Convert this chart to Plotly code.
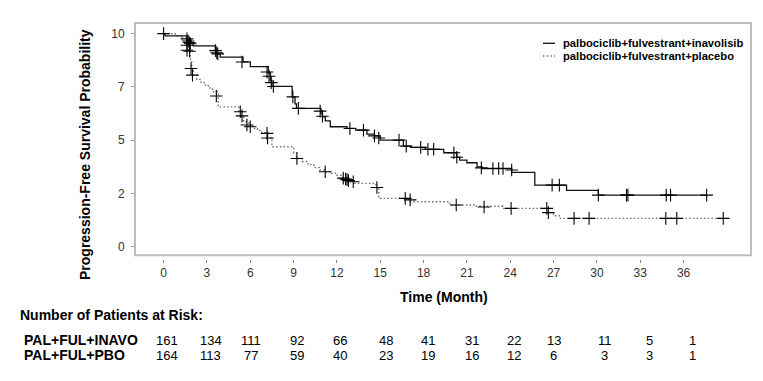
import plotly.graph_objects as go

# ---------------- data ----------------
# Kaplan-Meier step curves (time in months, survival probability)
inavo_t = [0, 0.1, 1.62, 1.9, 2.05, 3.58, 3.7, 3.92, 5.5, 6.0, 7.25, 7.4, 7.5, 8.9, 9.1, 9.2,
           10.9, 11.0, 11.2, 11.54, 12.7, 13.3, 14.08, 14.6, 15.0, 16.6, 17.1, 18.1, 19.4, 20.3,
           20.5, 21.0, 21.7, 22.05, 24.1, 25.7, 27.9, 30.1, 37.6]
inavo_s = [1.0, .989, .969, .955, .942, .922, .905, .89, .867, .845, .815, .78, .752, .703, .67, .649,
           .625, .609, .59, .563, .555, .547, .528, .52, .50, .472, .466, .457, .441, .42,
           .406, .394, .375, .367, .349, .289, .264, .242, .242]

pbo_t = [0, 0.8, 1.3, 1.6, 1.75, 1.85, 1.95, 2.05, 2.3, 2.6, 2.9, 3.2, 3.45, 3.79, 5.2, 5.4, 5.54,
         5.9, 6.2, 6.5, 6.8, 7.2, 7.5, 9.0, 9.2, 9.6, 10.0, 10.4, 10.8, 11.15, 11.5, 11.9, 12.3,
         12.8, 13.2, 14.7, 14.9, 15.0, 17.0, 19.8, 21.5, 23.5, 26.6, 27.0, 27.4, 38.75]
pbo_s = [1.0, .99, .98, .955, .92, .88, .836, .805, .785, .77, .755, .74, .727, .656, .633, .61, .586,
         .565, .555, .545, .535, .51, .469, .44, .414, .40, .385, .372, .36, .352, .345, .335, .325,
         .31, .297, .278, .234, .227, .211, .196, .19, .18, .16, .145, .133, .133]

# censoring marks
inavo_ct = [0, 1.62, 1.7, 1.78, 1.85, 3.6, 3.68, 3.75, 5.43, 7.16, 7.3, 7.45, 7.6, 8.95, 9.33,
            10.84, 11.0, 12.9, 13.84, 14.6, 14.9, 16.3, 16.8, 17.8, 18.3, 18.7, 20.1, 20.3, 22.0,
            22.8, 23.2, 23.5, 24.1, 26.9, 27.4, 30.1, 32.05, 32.15, 34.8, 35.1, 37.6]
inavo_cs = [1.0, .975, .965, .958, .952, .92, .91, .905, .867, .82, .80, .77, .752, .703, .649,
            .636, .612, .555, .547, .52, .51, .50, .472, .466, .457, .457, .441, .42, .37,
            .367, .367, .367, .36, .289, .289, .242, .242, .242, .242, .242, .242]

pbo_ct = [1.62, 1.62, 1.8, 1.9, 2.0, 3.65, 5.31, 5.43, 5.77, 6.0, 7.16, 7.2, 9.23, 11.19, 12.44,
          12.6, 12.7, 12.8, 13.13, 14.77, 16.73, 17.07, 20.26, 22.19, 24.06, 26.53, 26.64, 28.42,
          29.46, 34.77, 35.53, 38.75]
pbo_cs = [.945, .922, .917, .836, .805, .707, .633, .614, .571, .563, .532, .51, .414, .352, .322,
          .318, .315, .31, .305, .278, .227, .22, .196, .186, .18, .18, .16, .133,
          .133, .133, .133, .133]

x_ticks = [0, 3, 6, 9, 12, 15, 18, 21, 24, 27, 30, 33, 36]
x_ticktext = ["0", "3", "6", "9", "12", "15", "18", "21", "24", "27", "30", "33", "36"]
y_ticks = [0, 0.25, 0.5, 0.75, 1.0]
y_ticktext = ["0", "2", "5", "7", "10"]

series_names = ["palbociclib+fulvestrant+inavolisib", "palbociclib+fulvestrant+placebo"]
arm_labels = ["PAL+FUL+INAVO", "PAL+FUL+PBO"]
risk_times = [0, 3, 6, 9, 12, 15, 18, 21, 24, 27, 30, 33, 36]
risk_inavo = [161, 134, 111, 92, 66, 48, 41, 31, 22, 13, 11, 5, 1]
risk_pbo = [164, 113, 77, 59, 40, 23, 19, 16, 12, 6, 3, 3, 1]

# ---------------- layout helpers (style only) ----------------
W, H = 763, 381
OFF = 8  # page body margin
ML, MT = 135 - OFF, 23 - OFF
MR = W - (751 - OFF)
MB = H - (259 - OFF)
PW, PH = W - ML - MR, H - MT - MB
FONT = "Liberation Sans, Arial, sans-serif"
DOT = "1.5px,2.2px"


def px_x(px):
    return (px - OFF - ML) / PW


def px_y(py):
    return (H - MB - (py - OFF)) / PH


risk_shift = [3, 4, 1, 3, 3, 6, 4, 5, 4, 0, 8, 9, 9]

fig = go.Figure()
fig.add_trace(go.Scatter(x=pbo_t, y=pbo_s, mode="lines", name=series_names[1],
                         line=dict(shape="hv", color="#6e6e6e", width=1.4, dash=DOT),
                         showlegend=False))
fig.add_trace(go.Scatter(x=inavo_t, y=inavo_s, mode="lines", name=series_names[0],
                         line=dict(shape="hv", color="#111111", width=1.3),
                         showlegend=False))
for ct, cs in ((inavo_ct, inavo_cs), (pbo_ct, pbo_cs)):
    fig.add_trace(go.Scatter(x=ct, y=cs, mode="markers", showlegend=False, hoverinfo="skip",
                             marker=dict(symbol="cross-thin", size=9,
                                         line=dict(color="black", width=1.1))))

ydom0 = 3.7 / PH
fig.update_layout(
    width=W, height=H, margin=dict(l=ML, r=MR, t=MT, b=MB),
    plot_bgcolor="white", paper_bgcolor="white", showlegend=False,
    font=dict(family=FONT, color="black"),
)
fig.update_xaxes(range=[-1.98, 40.67], anchor="free", position=0, showline=False,
                 showgrid=False, zeroline=False, ticks="outside", ticklen=3, tickcolor="#888",
                 tickvals=x_ticks, ticktext=x_ticktext,
                 tickfont=dict(family=FONT, size=12, color="#333"))
fig.update_yaxes(domain=[ydom0, 1], range=[-0.0403, 1.0497], showline=False, showgrid=False,
                 zeroline=False, ticks="outside", ticklen=3, tickcolor="#999",
                 tickvals=y_ticks, ticktext=y_ticktext, ticklabelstandoff=4,
                 tickfont=dict(family=FONT, size=12, color="#333"))

# frame
fig.add_shape(type="rect", xref="paper", yref="paper", x0=0, x1=1, y0=ydom0, y1=1,
              line=dict(color="#bdbdbd", width=2), layer="below")

ann = []
ann.append(dict(text="<b>Progression-Free Survival Probability</b>", textangle=-90,
                x=px_x(85), y=px_y(155), xref="paper", yref="paper",
                xanchor="center", yanchor="middle", showarrow=False, font=dict(size=14)))
ann.append(dict(text="<b>Time (Month)</b>", x=px_x(444), y=px_y(297), xref="paper", yref="paper",
                xanchor="center", yanchor="middle", showarrow=False, font=dict(size=14)))
ann.append(dict(text="<b>Number of Patients at Risk:</b>", x=px_x(18), y=px_y(315),
                xref="paper", yref="paper", xanchor="left", yanchor="middle", showarrow=False,
                font=dict(size=14)))
for lab, py in zip(arm_labels, (340, 355)):
    ann.append(dict(text="<b>" + lab + "</b>", x=px_x(22), y=px_y(py), xref="paper", yref="paper",
                    xanchor="left", yanchor="middle", showarrow=False, font=dict(size=14)))
for vals, py in ((risk_inavo, 340), (risk_pbo, 355)):
    for t, v, s in zip(risk_times, vals, risk_shift):
        ann.append(dict(text=str(v), x=t, y=px_y(py), xref="x", yref="paper", xshift=s,
                        xanchor="center", yanchor="middle", showarrow=False,
                        font=dict(size=13)))
# legend
for name, py, dash, col in ((series_names[0], 43.3, "solid", "#111111"),
                            (series_names[1], 56, DOT, "#6e6e6e")):
    fig.add_shape(type="line", xref="paper", yref="paper", x0=px_x(543), x1=px_x(555),
                  y0=px_y(py), y1=px_y(py), line=dict(color=col, width=1.3, dash=dash))
    ann.append(dict(text="<b>" + name + "</b>", x=px_x(561), y=px_y(py), xref="paper",
                    yref="paper", xanchor="left", yanchor="middle", showarrow=False,
                    font=dict(size=11.2)))
fig.update_layout(annotations=ann)

fig.write_html("out.html")
